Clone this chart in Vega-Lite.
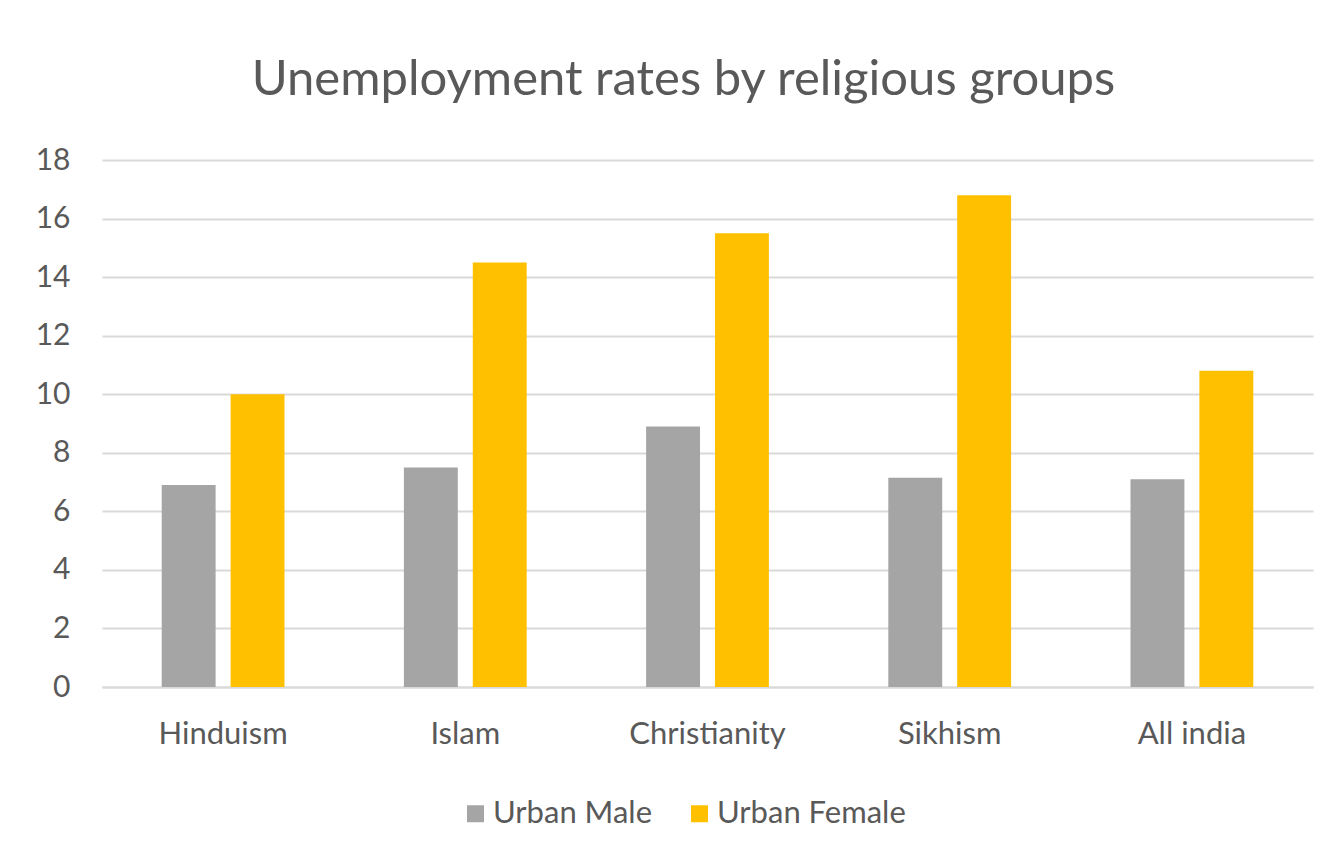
{
  "$schema": "https://vega.github.io/schema/vega-lite/v6.json",
  "autosize": {"type": "none"},
  "padding": {"left": 102, "top": 160, "right": 7, "bottom": 179},
  "width": 1211,
  "height": 527,
  "background": "white",
  "title": {
    "text": "Unemployment rates by religious groups",
    "font": "Lato",
    "fontSize": 49,
    "fontWeight": "normal",
    "color": "#595959",
    "anchor": "middle",
    "dx": -24,
    "baseline": "alphabetic",
    "offset": 1
  },
  "data": {
    "values": [
      {"religion": "Hinduism", "series": "Urban Male", "rate": 6.9},
      {"religion": "Hinduism", "series": "Urban Female", "rate": 10.0},
      {"religion": "Islam", "series": "Urban Male", "rate": 7.5},
      {"religion": "Islam", "series": "Urban Female", "rate": 14.5},
      {"religion": "Christianity", "series": "Urban Male", "rate": 8.9},
      {"religion": "Christianity", "series": "Urban Female", "rate": 15.5},
      {"religion": "Sikhism", "series": "Urban Male", "rate": 7.15},
      {"religion": "Sikhism", "series": "Urban Female", "rate": 16.8},
      {"religion": "All india", "series": "Urban Male", "rate": 7.1},
      {"religion": "All india", "series": "Urban Female", "rate": 10.8}
    ]
  },
  "mark": {"type": "bar"},
  "encoding": {
    "x": {
      "field": "religion",
      "type": "nominal",
      "sort": ["Hinduism", "Islam", "Christianity", "Sikhism", "All india"],
      "scale": {"paddingInner": 0.493, "paddingOuter": 0.2465},
      "axis": {
        "title": null,
        "labelAngle": 0,
        "labelFont": "Lato",
        "labelFontSize": 31,
        "labelColor": "#595959",
        "ticks": false,
        "domainColor": "#d9d9d9",
        "domainWidth": 2,
        "labelPadding": 32
      }
    },
    "xOffset": {
      "field": "series",
      "sort": ["Urban Male", "Urban Female"],
      "scale": {"paddingInner": 0.2174, "paddingOuter": 0}
    },
    "y": {
      "field": "rate",
      "type": "quantitative",
      "scale": {"domain": [0, 18]},
      "axis": {
        "title": null,
        "values": [0, 2, 4, 6, 8, 10, 12, 14, 16, 18],
        "grid": true,
        "gridColor": "#d9d9d9",
        "gridWidth": 2,
        "domain": false,
        "ticks": false,
        "labelPadding": 32,
        "labelFont": "Lato",
        "labelFontSize": 30,
        "labelColor": "#595959"
      }
    },
    "color": {
      "field": "series",
      "type": "nominal",
      "scale": {"domain": ["Urban Male", "Urban Female"], "range": ["#A5A5A5", "#FFC000"]},
      "legend": {
        "title": null,
        "orient": "none",
        "direction": "horizontal",
        "legendX": 358,
        "legendY": 638,
        "symbolType": "square",
        "symbolSize": 289,
        "symbolStrokeWidth": 0,
        "labelFont": "Lato",
        "labelFontSize": 31,
        "labelColor": "#595959",
        "labelOffset": 2,
        "labelLimit": 400,
        "columnPadding": 31,
        "padding": 0
      }
    }
  },
  "config": {"view": {"stroke": null}}
}
